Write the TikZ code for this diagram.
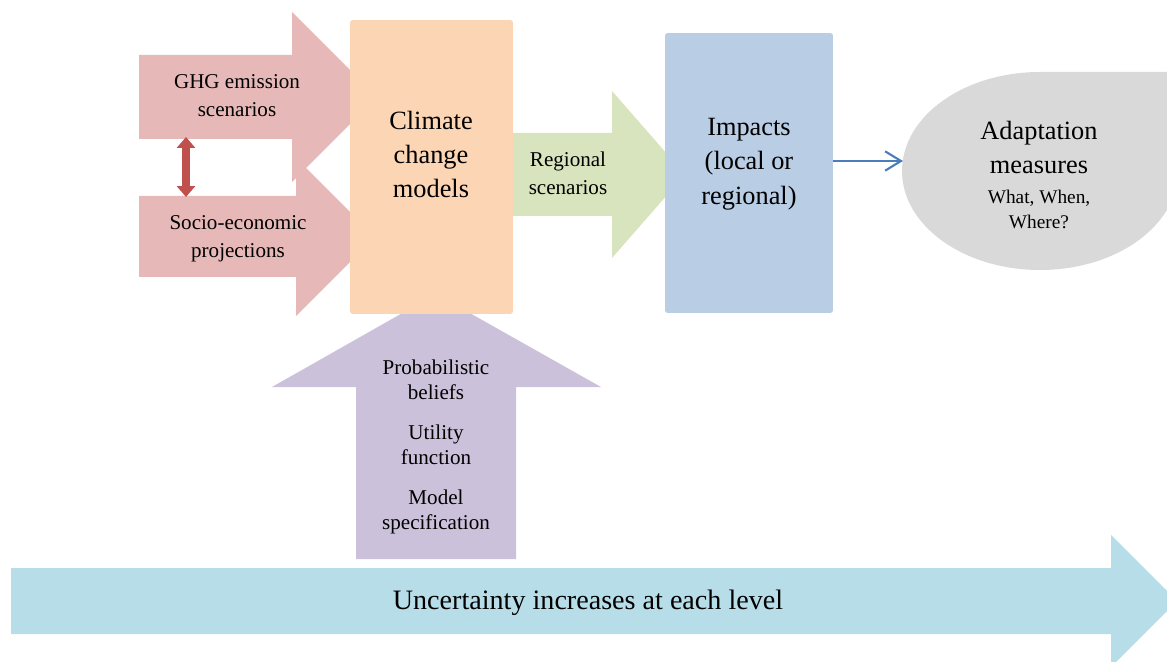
\documentclass[tikz,border=0pt]{standalone}
\usepackage{fontspec}
\setmainfont{Liberation Serif}
\usetikzlibrary{arrows.meta}

\definecolor{ghgpink}{HTML}{E6B9B8}
\definecolor{climorange}{HTML}{FCD5B5}
\definecolor{reggreen}{HTML}{D7E4BD}
\definecolor{impblue}{HTML}{B9CDE5}
\definecolor{adaptgray}{HTML}{D9D9D9}
\definecolor{beliefpurple}{HTML}{CCC1DA}
\definecolor{uncertblue}{HTML}{B7DEE8}
\definecolor{dblred}{HTML}{C0504D}
\definecolor{linkblue}{HTML}{4A7EBB}

\begin{document}
\begin{tikzpicture}[x=0.02cm,y=-0.02cm]
  \tikzset{txt/.style = {align=center, inner sep=0pt, font=\fontsize{12}{15.9}\selectfont}}
  \tikzset{bigtxt/.style = {align=center, inner sep=0pt, font=\fontsize{15}{19.6}\selectfont}}
  \tikzset{box/.style = {rectangle, rounded corners=1.5pt, inner sep=0pt}}
  \tikzset{edge/.style = {-{Straight Barb[length=9pt,width=11pt]}, line width=1.2pt, draw=linkblue}}
  \tikzset{%
  tipR/.tip={Triangle[length=6.2pt,width=10.2pt]},
}
  \tikzset{linkA/.style = {tipR-tipR, line width=5pt, draw=dblred}}

  \useasboundingbox (0,0) rectangle (1167,662);

  % block arrows
  \fill[uncertblue] (11,568) -- (1111,568) -- (1111,535) -- (1177,601) -- (1111,667) -- (1111,634) -- (11,634) -- cycle;
  \fill[beliefpurple] (356,559) -- (356,387) -- (272,387) -- (436,294) -- (601,387) -- (516,387) -- (516,559) -- cycle;
  \fill[ghgpink] (139,55) -- (292,55) -- (292,12) -- (377,97) -- (292,182) -- (292,139) -- (139,139) -- cycle;
  \fill[ghgpink] (139,196) -- (296,196) -- (296,158) -- (375,237) -- (296,316) -- (296,277) -- (139,277) -- cycle;

  \node[box, fill=climorange, minimum width=3.26cm, minimum height=5.88cm] (climbox) at (431.5,167) {};
  \fill[reggreen] (513,133) -- (612,133) -- (612,91) -- (685,174.5) -- (612,258) -- (612,216) -- (513,216) -- cycle;
  \node[box, fill=impblue, minimum width=3.36cm, minimum height=5.6cm] (impbox) at (749,173) {};
  \fill[adaptgray] (1040,72) -- (1178,72) -- (1178,171) arc (0:270:138 and 99) -- cycle;

  % labels
  \node[txt] (ghg) at (237,96) {GHG emission\\scenarios};
  \node[txt] (socio) at (238,239) {Socio-economic\\projections};
  \node[bigtxt] (climate) at (431,154.5) {Climate\\change\\models};
  \node[txt] (regional) at (568,173) {Regional\\scenarios};
  \node[bigtxt] (impacts) at (749,164) {Impacts\\(local or\\regional)};
  \node[bigtxt] (adapt) at (1039,147.5) {Adaptation\\measures};
  \node[txt, font=\fontsize{11}{14.2}\selectfont] (adaptq) at (1039,209) {What, When,\\Where?};
  \node[txt, font=\fontsize{12}{14.2}\selectfont] (beliefs) at (436,447) {Probabilistic\\beliefs\\[8.6pt]Utility\\function\\[8.6pt]Model\\specification};
  \node[inner sep=0pt, font=\fontsize{16}{19}\selectfont] (uncert) at (588,603) {Uncertainty increases at each level};

  \coordinate (ghgS) at (186,137);
  \coordinate (socioN) at (186,197);
  \coordinate (adaptW) at (903,161);

  \draw[linkA] (ghgS) -- (socioN);
  \draw[edge] (impbox.east |- 0,161) -- (adaptW);

\end{tikzpicture}
\end{document}
